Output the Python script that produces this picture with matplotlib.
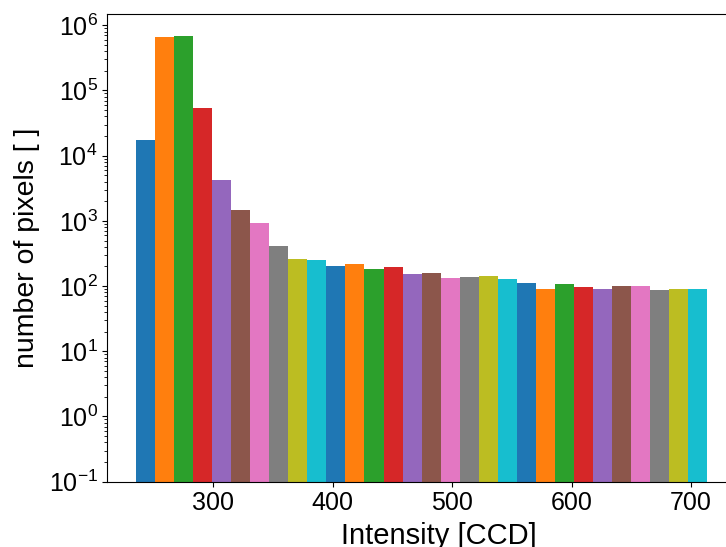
import numpy as np
import matplotlib
matplotlib.use("Agg")
import matplotlib.pyplot as plt

plt.rcParams['font.family'] = ['Liberation Sans', 'DejaVu Sans']

# Histogram bin edges (CCD intensity) and pixel counts per bin
bin_start = 235.5
bin_stop = 713.5
n_bins = 30
counts = [17300, 655000, 678000, 53500, 4200, 1460, 925, 410, 259, 250,
          203, 217, 182, 195, 155, 161, 135, 140, 145, 130,
          112, 91, 108, 97, 91, 101, 101, 87, 91, 91]

edges = np.linspace(bin_start, bin_stop, n_bins + 1)
width = edges[1] - edges[0]

fig = plt.figure(figsize=(7.26, 5.47), dpi=100)
# the axes runs past the right edge of the canvas
ax = fig.add_axes([0.148, 0.1194, 0.9125, 0.855])

colors = plt.rcParams['axes.prop_cycle'].by_key()['color']
for i, c in enumerate(counts):
    ax.bar(edges[i], c, width=width, align='edge', color=colors[i % len(colors)],
           linewidth=0)

ax.set_yscale('log')
span = edges[-1] - edges[0]
ax.set_xlim(edges[0] - 0.05 * span, 766)
lo = -1
hi = np.log10(max(counts))
ax.set_ylim(10 ** lo, 10 ** (hi + 0.05 * (hi - lo)))
ax.set_xticks([300, 400, 500, 600, 700])

ax.tick_params(labelsize=18)
ax.set_xlabel('Intensity [CCD]', fontsize=21, labelpad=5)
ax.set_ylabel('number of pixels [ ]', fontsize=20.5, labelpad=6)

fig.savefig('out.png', dpi=100)
